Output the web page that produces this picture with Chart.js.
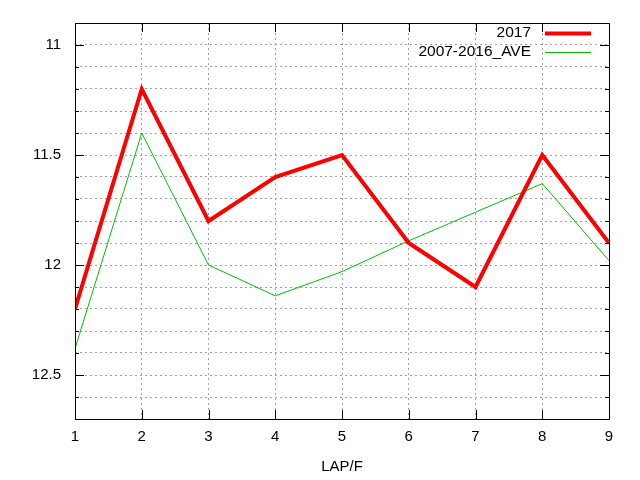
<!DOCTYPE html>
<html>
<head>
    <meta charset="UTF-8"/>
    <title>LAP/F</title>
    <style>
        body { margin: 0; background: #fff; }
        #chart-box { width: 640px; height: 480px; }
    </style>
    <script src="https://cdn.jsdelivr.net/npm/chart.js"></script>
</head>
<body>
    <div id="chart-box"><canvas id="myChart" width="640" height="480"></canvas></div>
    <script>
        var laps = [1, 2, 3, 4, 5, 6, 7, 8, 9];
        var valores2017 = [12.2, 11.2, 11.8, 11.6, 11.5, 11.9, 12.1, 11.5, 11.9];
        var valoresMedia = [12.38, 11.4, 12.0, 12.14, 12.03, 11.89, 11.76, 11.63, 11.98];
        var rotulosY = [11, 11.5, 12, 12.5];
        var nomes = ['2017', '2007-2016_AVE'];

        var familia = '"Liberation Sans", Arial, sans-serif';

        function pontos(valores) {
            return laps.map(function (x, i) { return { x: x, y: valores[i] }; });
        }

        // borda, marcas internas e legenda no estilo gnuplot
        var molduraPlugin = {
            id: 'moldura',
            afterDraw: function (chart) {
                var ctx = chart.ctx;
                var a = chart.chartArea;
                var sx = chart.scales.x;
                var sy = chart.scales.y;
                ctx.save();
                ctx.strokeStyle = '#000';
                ctx.lineWidth = 1;
                ctx.setLineDash([]);
                ctx.beginPath();
                sy.ticks.forEach(function (t) {
                    var y = Math.round(sy.getPixelForValue(t.value)) + 0.5;
                    var len = t.label ? 9 : 4;
                    ctx.moveTo(a.left, y); ctx.lineTo(a.left + len, y);
                    ctx.moveTo(a.right, y); ctx.lineTo(a.right - len, y);
                });
                sx.ticks.forEach(function (t) {
                    var x = Math.round(sx.getPixelForValue(t.value)) + 0.5;
                    ctx.moveTo(x, a.bottom); ctx.lineTo(x, a.bottom - 9);
                    ctx.moveTo(x, a.top); ctx.lineTo(x, a.top + 9);
                });
                ctx.stroke();
                ctx.strokeRect(Math.round(a.left) + 0.5, Math.round(a.top) + 0.5,
                    Math.round(a.right - a.left), Math.round(a.bottom - a.top));

                // legenda
                ctx.font = '15.5px ' + familia;
                ctx.textAlign = 'right';
                ctx.textBaseline = 'middle';
                chart.data.datasets.forEach(function (ds, i) {
                    var y = 33 + i * 19;
                    ctx.fillStyle = '#000';
                    ctx.fillText(ds.label, 531, y);
                    ctx.strokeStyle = ds.borderColor;
                    ctx.lineWidth = ds.borderWidth;
                    ctx.beginPath();
                    ctx.moveTo(545, y + 0.5);
                    ctx.lineTo(591, y + 0.5);
                    ctx.stroke();
                });
                ctx.restore();
            }
        };

        var ctx = document.getElementById('myChart').getContext('2d');
        var myChart = new Chart(ctx, {
            type: 'line',
            data: {
                datasets: [{
                    label: nomes[0],
                    data: pontos(valores2017),
                    borderColor: '#ff0000',
                    borderWidth: 4,
                    pointRadius: 0,
                    tension: 0,
                    order: 0
                }, {
                    label: nomes[1],
                    data: pontos(valoresMedia),
                    borderColor: '#00c000',
                    borderWidth: 1,
                    pointRadius: 0,
                    tension: 0,
                    order: 1
                }]
            },
            options: {
                responsive: false,
                animation: false,
                layout: { padding: { top: 20, right: 31, left: 0, bottom: 0 } },
                plugins: {
                    legend: { display: false },
                    tooltip: { enabled: false }
                },
                scales: {
                    x: {
                        type: 'linear',
                        min: 1,
                        max: 9,
                        ticks: {
                            stepSize: 1,
                            color: '#000',
                            font: { family: familia, size: 15 },
                            padding: 9
                        },
                        grid: {
                            color: '#a0a0a0',
                            drawTicks: false
                        },
                        border: { display: false, dash: [2, 3] },
                        title: {
                            display: true,
                            text: 'LAP/F',
                            color: '#000',
                            font: { family: familia, size: 15 },
                            padding: { top: 6, bottom: 4 }
                        },
                        afterFit: function (scale) { scale.height = 61; }
                    },
                    y: {
                        reverse: true,
                        min: 10.9,
                        max: 12.7,
                        ticks: {
                            stepSize: 0.1,
                            autoSkip: false,
                            color: '#000',
                            font: { family: familia, size: 15 },
                            padding: 14,
                            callback: function (value) {
                                for (var i = 0; i < rotulosY.length; i++) {
                                    if (Math.abs(value - rotulosY[i]) < 1e-6) return String(rotulosY[i]);
                                }
                                return '';
                            }
                        },
                        grid: {
                            color: '#a0a0a0',
                            drawTicks: false
                        },
                        border: { display: false, dash: [2, 3] },
                        afterFit: function (scale) { scale.width = 75; }
                    }
                }
            },
            plugins: [molduraPlugin]
        });
    </script>
</body>
</html>
